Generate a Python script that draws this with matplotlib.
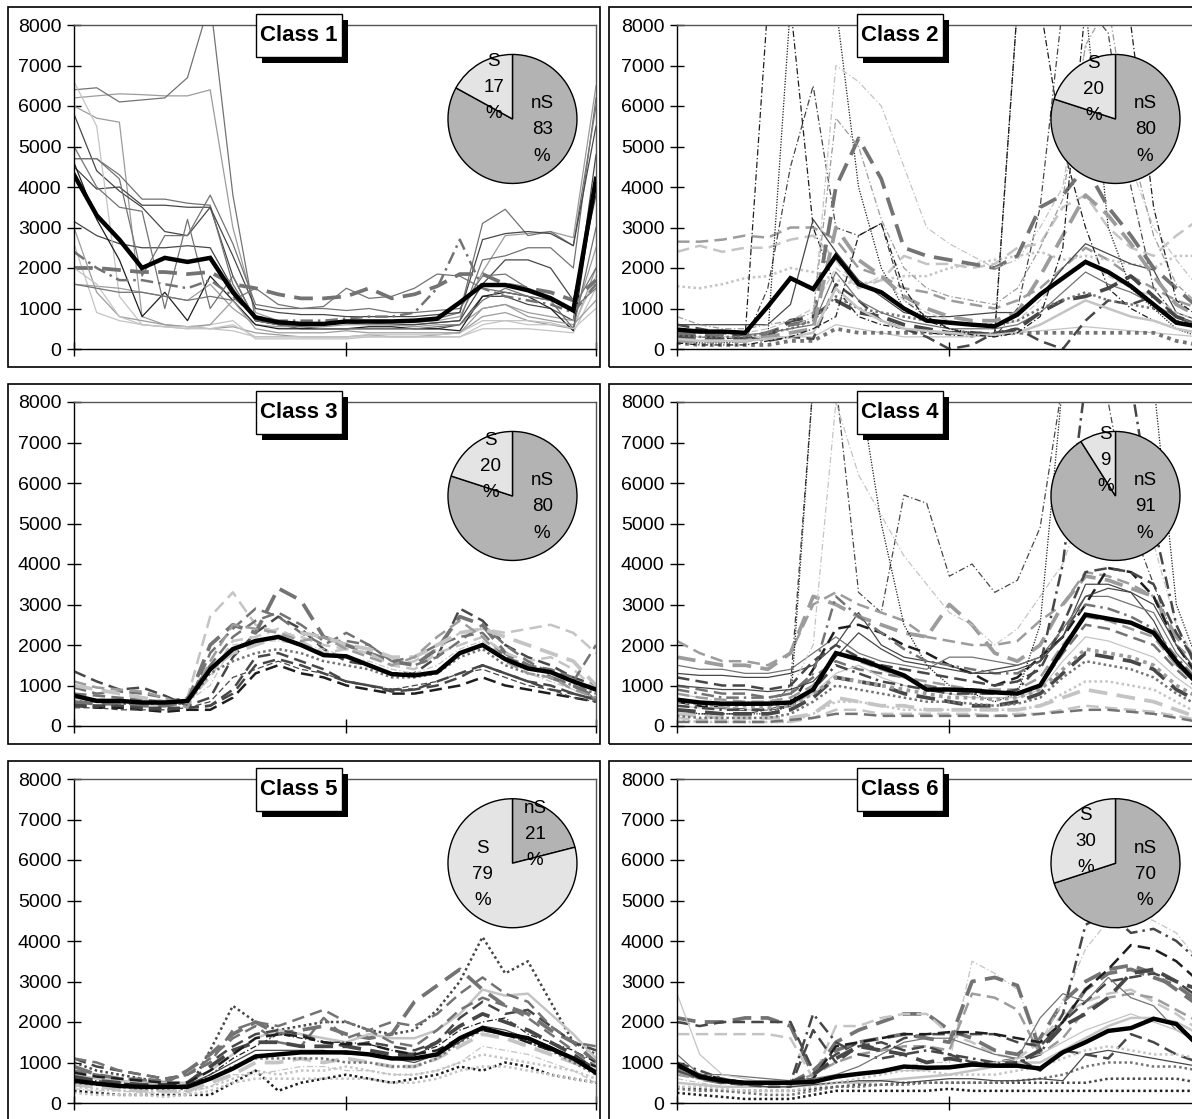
import numpy as np
import matplotlib.pyplot as plt
from matplotlib.patches import Rectangle

plt.rcParams['font.family'] = ['Liberation Sans', 'DejaVu Sans']

hours = np.arange(24)
y_ticks = [0, 1000, 2000, 3000, 4000, 5000, 6000, 7000, 8000]
class_names = ['Class 1', 'Class 2', 'Class 3', 'Class 4', 'Class 5', 'Class 6']
pct_ns = [83, 80, 80, 91, 21, 70]
pct_s = [17, 20, 20, 9, 79, 30]

# ---- Class 1
c1_mean = [4300, 3300, 2700, 2000, 2250, 2150, 2250, 1400, 780, 660, 620, 620, 680, 680, 680, 700, 750, 1150, 1580, 1580, 1450, 1250, 950, 4200]
c1_lines = [
    [6200, 6250, 6300, 6280, 6250, 6250, 6400, 3000, 900, 700, 650, 600, 650, 700, 650, 650, 700, 800, 1900, 2800, 2850, 2900, 2750, 6500],
    [6400, 6450, 6100, 6150, 6200, 6700, 8600, 3800, 700, 650, 600, 600, 700, 650, 650, 700, 750, 900, 3100, 3450, 2800, 2900, 2550, 6000],
    [6000, 5700, 5600, 800, 600, 550, 500, 550, 400, 350, 300, 300, 300, 350, 300, 300, 350, 400, 800, 900, 700, 600, 500, 2000],
    [5800, 4400, 3900, 3500, 2900, 2800, 3500, 1800, 700, 600, 500, 500, 500, 500, 500, 500, 500, 600, 1300, 1300, 1100, 1000, 700, 4800],
    [4700, 4700, 4300, 3700, 3700, 3600, 3550, 1600, 700, 650, 600, 600, 650, 650, 600, 600, 650, 700, 2200, 2300, 2500, 2500, 2000, 6200],
    [4500, 3950, 4000, 3550, 3550, 3500, 3500, 2300, 1000, 900, 850, 850, 800, 800, 800, 800, 850, 900, 2700, 2850, 2900, 2850, 2550, 5500],
    [3150, 2800, 2600, 2500, 2500, 2550, 2500, 1500, 700, 600, 600, 600, 650, 600, 600, 600, 650, 700, 1600, 2200, 2200, 2000, 1200, 3800],
    [6600, 5500, 1300, 600, 550, 500, 500, 450, 300, 300, 300, 300, 300, 350, 350, 350, 350, 400, 700, 700, 600, 600, 550, 1800],
    [2600, 900, 700, 600, 550, 500, 600, 700, 250, 250, 250, 250, 250, 300, 300, 300, 300, 300, 500, 500, 500, 450, 400, 1500],
    [1600, 1550, 1500, 1400, 1300, 1200, 1600, 1000, 600, 550, 550, 550, 600, 600, 600, 550, 600, 600, 1000, 1100, 900, 800, 700, 2500],
    [2000, 2000, 1950, 1900, 1900, 1850, 1900, 1600, 1500, 1350, 1250, 1250, 1300, 1500, 1250, 1350, 1550, 1850, 1850, 1600, 1500, 1400, 1200, 1700],
    [4600, 3200, 2200, 800, 1400, 700, 1800, 1200, 600, 500, 500, 500, 500, 550, 550, 500, 500, 450, 1300, 1400, 1300, 1000, 450, 4200],
    [2400, 2000, 1700, 1700, 1600, 1500, 1700, 1300, 800, 700, 700, 700, 750, 800, 800, 900, 1500, 2700, 1500, 1300, 1200, 1100, 900, 1600],
    [3000, 1400, 800, 700, 600, 550, 600, 1200, 500, 400, 400, 400, 450, 400, 400, 400, 400, 400, 1000, 1100, 800, 700, 600, 1200],
    [5000, 4000, 3500, 3400, 1000, 3200, 1000, 1800, 700, 600, 550, 500, 500, 500, 500, 500, 550, 600, 1200, 1500, 1300, 1200, 500, 3000],
    [4700, 4700, 4200, 1800, 2800, 2800, 3800, 2600, 1100, 1000, 1000, 1000, 950, 1000, 900, 900, 950, 1000, 1800, 1850, 1500, 1300, 1000, 2000],
    [2000, 1600, 800, 600, 550, 550, 500, 600, 300, 300, 300, 300, 300, 300, 300, 300, 300, 300, 600, 700, 700, 650, 500, 1000],
    [1600, 1500, 1400, 1400, 1300, 1200, 1300, 1200, 1500, 1100, 1000, 1050, 1500, 1250, 1300, 1500, 1850, 1800, 1500, 1400, 1300, 1200, 1000, 1500],
]
c1_styles = ['Ls1', 'Ms1', 'Ls1', 'Ds1', 'Ms1', 'Ds1', 'Ds1', 'Xs1', 'Xs1', 'Ls1', 'Md3', 'Ks1', 'Ma2', 'Ls1', 'Ms1', 'Ms1', 'Xs1', 'Ms1']

# ---- Class 2
c2_mean = [480, 430, 430, 400, 1050, 1750, 1480, 2300, 1600, 1400, 1000, 700, 650, 600, 560, 850, 1350, 1750, 2150, 1900, 1550, 1100, 650, 550]
c2_lines = [
    [2650, 2650, 2700, 2800, 2750, 3000, 3000, 2700, 2000, 1800, 1500, 1400, 1200, 1100, 1000, 1200, 1500, 2000, 2500, 2200, 1800, 1500, 1200, 1000],
    [2400, 2550, 2400, 2500, 2500, 2700, 2800, 2200, 1500, 1700, 2300, 2100, 2100, 2000, 2100, 2500, 2600, 3500, 3800, 3000, 2500, 2300, 2800, 3200],
    [1550, 1500, 1600, 1750, 1800, 2000, 1900, 1700, 1600, 1700, 1800, 1800, 2000, 2100, 2200, 2300, 2400, 2200, 2300, 2200, 2100, 2000, 2300, 2300],
    [300, 300, 250, 300, 8500, 8500, 3000, 1500, 800, 600, 500, 400, 350, 300, 400, 8500, 8500, 5000, 3000, 1500, 1000, 700, 500, 400],
    [200, 200, 200, 200, 1500, 4500, 6500, 3000, 2800, 3100, 1200, 800, 500, 400, 300, 1000, 3500, 8500, 8500, 7800, 4000, 1500, 800, 500],
    [200, 150, 150, 200, 300, 8500, 8500, 8500, 4000, 2000, 1000, 800, 500, 400, 300, 8500, 8500, 8500, 8500, 3000, 1500, 1000, 500, 300],
    [600, 600, 600, 600, 600, 1100, 3200, 2400, 1700, 1300, 900, 800, 800, 850, 900, 900, 1300, 2000, 2600, 2350, 2100, 1950, 900, 700],
    [300, 300, 300, 300, 300, 300, 300, 600, 500, 400, 300, 300, 300, 300, 350, 400, 450, 500, 550, 500, 450, 400, 350, 300],
    [400, 350, 350, 300, 400, 600, 700, 4000, 5200, 4200, 2500, 2300, 2200, 2100, 2000, 2300, 3500, 3800, 4500, 3500, 2800, 2000, 1500, 1000],
    [500, 450, 400, 400, 500, 700, 1000, 2000, 1500, 1800, 1200, 900, 700, 600, 550, 700, 1200, 1800, 2200, 1800, 1500, 1300, 900, 700],
    [150, 100, 100, 100, 100, 200, 200, 500, 400, 400, 400, 400, 400, 400, 350, 400, 400, 400, 400, 400, 400, 400, 200, 100],
    [600, 500, 400, 300, 200, 300, 250, 1600, 1200, 700, 500, 300, 0, 100, 400, 500, 200, 0, 700, 1200, 1100, 1300, 800, 600],
    [200, 200, 300, 300, 400, 500, 800, 7000, 6600, 6000, 4500, 3000, 2600, 2300, 2000, 2200, 3000, 4000, 7500, 6500, 4500, 3000, 2200, 1500],
    [400, 400, 400, 350, 400, 500, 600, 1900, 1200, 900, 700, 600, 500, 500, 500, 600, 900, 1400, 1900, 1600, 1400, 1100, 800, 600],
    [300, 300, 250, 250, 300, 700, 800, 1200, 900, 800, 600, 500, 400, 400, 350, 500, 900, 1200, 1300, 1500, 1800, 1300, 800, 600],
    [800, 600, 500, 500, 600, 700, 900, 5700, 5000, 3200, 2000, 1500, 1300, 1200, 1100, 1500, 2500, 3700, 7500, 8500, 5000, 2800, 1600, 1100],
    [350, 300, 300, 300, 400, 500, 700, 1300, 1000, 900, 800, 700, 650, 600, 600, 700, 1000, 1200, 1400, 1200, 1100, 1000, 700, 500],
    [200, 200, 200, 200, 300, 400, 500, 3000, 2200, 1800, 1300, 1000, 800, 700, 700, 900, 1800, 2800, 3800, 3300, 2600, 1800, 1100, 800],
    [250, 200, 200, 200, 250, 300, 400, 1500, 1000, 700, 500, 450, 400, 350, 350, 400, 600, 900, 1200, 1000, 800, 700, 500, 400],
    [150, 100, 100, 100, 200, 300, 500, 800, 2800, 3100, 1500, 700, 500, 350, 300, 400, 800, 2500, 8500, 8500, 8000, 3500, 1200, 800],
]
c2_styles = ['Ld2', 'Xd2', 'Xo2', 'Ka1', 'Da1', 'Ko1', 'Ds1', 'Xs1', 'Md3', 'Xd1', 'Mo3', 'Dd2', 'Xa1', 'Ms1', 'Dd3', 'La1', 'Mo2', 'Ld3', 'Xs2', 'Ka1']

# ---- Class 3
c3_mean = [750, 620, 620, 580, 580, 620, 1400, 1900, 2100, 2200, 2000, 1750, 1720, 1500, 1280, 1250, 1330, 1800, 2000, 1650, 1420, 1330, 1100, 900]
c3_lines = [
    [1350, 1100, 900, 950, 750, 500, 700, 1700, 2300, 2700, 2400, 1900, 1600, 1500, 1300, 1300, 1700, 2900, 2600, 2000, 1700, 1500, 1200, 1000],
    [500, 450, 450, 400, 350, 400, 400, 700, 1300, 1500, 1300, 1200, 1000, 900, 800, 800, 900, 1000, 1200, 1000, 900, 800, 700, 600],
    [550, 500, 500, 450, 400, 450, 500, 800, 1500, 1650, 1500, 1300, 1100, 1000, 900, 900, 1000, 1200, 1500, 1300, 1100, 900, 800, 650],
    [600, 600, 550, 550, 500, 700, 2700, 3300, 2500, 2300, 2200, 2000, 1900, 1800, 1500, 1600, 1900, 2300, 2400, 2300, 2400, 2500, 2300, 1800],
    [600, 550, 550, 500, 500, 600, 2000, 2500, 2300, 3400, 3100, 2200, 2000, 1800, 1600, 1500, 1900, 2700, 2500, 1800, 1500, 1200, 1000, 700],
    [950, 800, 850, 800, 700, 500, 1800, 2400, 2900, 2700, 2300, 2000, 2300, 2000, 1600, 1700, 2000, 2200, 2300, 1700, 1500, 1400, 1200, 600],
    [700, 650, 650, 600, 600, 600, 1200, 2100, 2200, 2400, 2100, 1800, 1900, 1800, 1500, 1400, 1800, 2000, 2200, 1800, 1600, 1700, 1400, 900],
    [500, 500, 500, 450, 450, 450, 500, 900, 1700, 1800, 1600, 1400, 1100, 1000, 850, 900, 1100, 1300, 1500, 1300, 1100, 1000, 800, 650],
    [650, 600, 600, 550, 550, 600, 1000, 2000, 2100, 2100, 2000, 1900, 1700, 1600, 1400, 1300, 1500, 1900, 2100, 1700, 1300, 1100, 900, 700],
    [800, 750, 700, 650, 600, 700, 1500, 2200, 2600, 2800, 2500, 2100, 2100, 2000, 1600, 1500, 1700, 2100, 2500, 2000, 1600, 1300, 1100, 2000],
    [600, 600, 550, 550, 550, 550, 1300, 1600, 1800, 1900, 1800, 1600, 1500, 1400, 1200, 1200, 1300, 1700, 1900, 1500, 1300, 1200, 1000, 800],
    [450, 450, 400, 400, 400, 450, 600, 1200, 1400, 1600, 1400, 1300, 1100, 1000, 900, 1000, 1100, 1300, 1400, 1200, 1000, 900, 700, 600],
    [1000, 900, 800, 700, 600, 600, 1400, 1800, 2000, 2200, 2300, 2200, 2000, 1900, 1700, 1700, 2000, 2300, 2400, 2200, 2000, 1800, 1600, 1000],
    [1100, 950, 900, 850, 700, 450, 1600, 2500, 2400, 2300, 2100, 2200, 1900, 1700, 1500, 1700, 2200, 2600, 2200, 1600, 1300, 1200, 900, 700],
]
c3_styles = ['Dd2', 'Kd2', 'Dd2', 'Xd2', 'Md3', 'Md2', 'Xd2', 'Dd2', 'Xa1', 'Md2', 'Mo2', 'Dd1', 'Xd3', 'Ld2']

# ---- Class 4
c4_mean = [650, 580, 550, 550, 550, 580, 900, 1800, 1650, 1450, 1250, 900, 900, 880, 830, 800, 1000, 1900, 2750, 2650, 2550, 2300, 1600, 1000]
c4_lines = [
    [300, 300, 300, 300, 400, 1000, 8500, 8500, 3300, 2800, 5700, 5500, 3700, 4000, 3300, 3600, 4900, 8500, 8500, 8000, 5000, 3500, 2000, 1200],
    [2100, 1800, 1600, 1600, 1500, 1800, 3000, 3300, 3000, 2800, 2600, 2200, 2100, 2000, 2000, 2100, 2600, 3000, 3800, 3700, 3500, 3200, 2000, 1500],
    [1300, 1250, 1250, 1200, 1200, 1300, 1500, 2000, 2800, 2000, 1700, 1600, 1500, 1300, 1400, 1500, 1700, 2200, 3500, 3500, 3300, 2600, 1500, 1000],
    [1500, 1400, 1400, 1300, 1300, 1400, 1800, 2200, 1800, 1600, 1500, 1400, 1700, 1700, 1600, 1500, 1700, 2400, 3200, 3200, 3000, 2800, 1800, 1200],
    [1700, 1600, 1500, 1500, 1400, 1800, 3200, 3000, 2700, 2500, 2300, 2200, 3000, 2500, 1800, 1600, 2000, 3000, 3700, 3600, 3400, 3200, 2200, 1600],
    [800, 700, 600, 600, 600, 900, 2000, 8000, 6200, 5200, 4200, 3500, 2800, 2500, 2000, 2400, 3200, 4000, 5600, 6500, 6000, 4500, 2500, 1500],
    [600, 500, 450, 400, 400, 500, 1400, 2400, 2500, 2300, 2000, 1800, 1500, 1300, 1000, 1200, 1700, 2200, 3000, 3900, 3800, 3200, 2000, 1200],
    [400, 300, 300, 300, 300, 500, 8500, 8500, 8500, 5000, 2500, 1500, 1000, 800, 600, 800, 2500, 8500, 8500, 8500, 8500, 8500, 3000, 1500],
    [1000, 900, 800, 800, 700, 800, 1200, 1600, 1400, 1300, 1200, 1000, 900, 800, 800, 800, 1000, 1800, 2500, 2400, 2200, 2000, 1400, 900],
    [200, 150, 150, 100, 100, 100, 200, 400, 400, 300, 300, 300, 300, 300, 250, 300, 300, 400, 500, 450, 400, 350, 250, 150],
    [300, 250, 200, 200, 200, 200, 300, 700, 600, 500, 500, 400, 400, 400, 400, 400, 500, 700, 900, 800, 700, 600, 400, 200],
    [150, 100, 100, 100, 100, 100, 300, 600, 600, 500, 400, 400, 400, 400, 400, 400, 500, 800, 1100, 1100, 1000, 900, 600, 300],
    [500, 450, 450, 400, 400, 500, 800, 1300, 1500, 1200, 1000, 900, 800, 700, 700, 700, 900, 1600, 2200, 2100, 1900, 1700, 1200, 800],
    [400, 350, 300, 300, 300, 400, 700, 1200, 1100, 1000, 800, 700, 600, 500, 500, 600, 800, 1300, 1800, 1700, 1600, 1400, 900, 600],
    [900, 800, 700, 700, 700, 800, 1300, 3200, 2700, 2300, 1900, 1600, 1500, 1400, 1300, 1300, 1600, 2400, 3000, 2900, 2700, 2400, 1700, 1100],
    [1200, 1100, 1000, 1000, 900, 1000, 1600, 2000, 1700, 1500, 1400, 1300, 1200, 1100, 1000, 1100, 1400, 2500, 3800, 3900, 3800, 3500, 2300, 1500],
    [250, 200, 200, 200, 200, 300, 600, 1000, 900, 800, 700, 600, 600, 550, 500, 550, 700, 1200, 1600, 1500, 1400, 1200, 800, 500],
    [800, 700, 650, 600, 600, 700, 1000, 1800, 1600, 1400, 1200, 1100, 1000, 900, 900, 900, 1200, 2000, 2700, 2600, 2400, 2200, 1500, 1000],
    [500, 450, 400, 400, 400, 500, 900, 1500, 1300, 1100, 1000, 900, 800, 800, 800, 900, 1500, 4000, 8500, 8500, 8500, 5000, 2500, 1300],
    [1000, 950, 900, 900, 850, 900, 1100, 1700, 2300, 1900, 1600, 1500, 1400, 1300, 1300, 1400, 1600, 2200, 3200, 3400, 3300, 3000, 2000, 1300],
    [100, 100, 100, 100, 100, 150, 200, 300, 300, 250, 250, 250, 250, 250, 250, 250, 300, 350, 400, 400, 350, 300, 200, 100],
    [600, 550, 500, 500, 450, 500, 800, 1200, 1100, 1000, 900, 800, 700, 700, 650, 700, 900, 1400, 1900, 1800, 1700, 1500, 1000, 700],
]
c4_styles = ['Da1', 'Ld2', 'Ds1', 'Ms1', 'Ld3', 'Xa1', 'Kd2', 'Ko1', 'Md2', 'Xd2', 'Xd3', 'Xo2', 'Xs1', 'Dd3', 'Ma2', 'Dd2', 'Mo2', 'Ld2', 'Da2', 'Ds1', 'Md2', 'Lo3']

# ---- Class 5
c5_mean = [550, 480, 420, 400, 400, 400, 600, 850, 1150, 1200, 1250, 1250, 1250, 1200, 1100, 1100, 1200, 1600, 1850, 1700, 1600, 1350, 1100, 750]
c5_lines = [
    [1000, 800, 700, 600, 500, 300, 1300, 2400, 2000, 1800, 1900, 2000, 2000, 1800, 1700, 1800, 2300, 3000, 4100, 3200, 3500, 2500, 1500, 1200],
    [900, 700, 600, 550, 500, 800, 1200, 1700, 2000, 1700, 1800, 1900, 1700, 1600, 1700, 2500, 2900, 3300, 2800, 2400, 2200, 1800, 1500, 1000],
    [700, 600, 550, 500, 500, 500, 800, 1200, 1600, 1800, 1700, 1600, 1500, 1700, 1600, 1600, 1800, 2200, 2800, 2650, 2700, 2200, 1700, 1100],
    [1100, 900, 800, 700, 600, 700, 1000, 1400, 1700, 1800, 1700, 1500, 1400, 1500, 1400, 1300, 1500, 2100, 2500, 2200, 2300, 1900, 1500, 1300],
    [600, 550, 500, 450, 400, 400, 700, 1100, 1400, 1700, 1600, 1500, 1500, 1450, 1300, 1200, 1400, 1800, 2000, 2100, 1700, 1500, 1300, 1000],
    [400, 350, 300, 300, 300, 300, 400, 600, 800, 700, 800, 800, 900, 800, 700, 700, 800, 1000, 1200, 1100, 1000, 900, 800, 600],
    [450, 400, 350, 300, 300, 300, 500, 700, 1000, 1000, 1100, 1000, 1100, 1000, 900, 900, 1100, 1400, 1700, 1600, 1400, 1200, 1000, 800],
    [300, 250, 200, 200, 200, 200, 200, 500, 800, 300, 500, 600, 700, 600, 500, 600, 700, 900, 800, 1000, 900, 700, 600, 500],
    [800, 700, 600, 600, 550, 700, 1100, 1600, 1900, 1500, 1400, 2100, 1600, 1800, 1500, 1400, 1800, 2300, 2600, 2400, 2100, 1700, 1300, 900],
    [650, 550, 500, 450, 450, 500, 900, 1300, 1500, 1500, 1400, 1400, 1400, 1300, 1200, 1200, 1500, 1900, 2200, 2000, 1800, 1500, 1200, 800],
    [500, 450, 400, 350, 350, 400, 600, 900, 1100, 1100, 1100, 1100, 1000, 1000, 900, 900, 1100, 1500, 1800, 1700, 1500, 1300, 1000, 700],
    [350, 300, 300, 250, 250, 250, 400, 700, 700, 800, 900, 900, 800, 800, 700, 700, 800, 1000, 1400, 1300, 1200, 1000, 800, 500],
    [750, 650, 600, 550, 500, 500, 800, 1200, 1600, 1700, 1650, 1500, 1450, 1450, 1300, 1200, 1300, 1600, 1800, 1700, 1500, 1300, 1100, 900],
    [250, 200, 200, 200, 150, 200, 300, 500, 600, 600, 600, 600, 600, 600, 500, 500, 600, 800, 900, 900, 800, 700, 600, 500],
    [1100, 1000, 800, 700, 600, 700, 1000, 1800, 2000, 1900, 2100, 2300, 2000, 1800, 2000, 1900, 2200, 2700, 3100, 2700, 2500, 1900, 1500, 1400],
    [600, 500, 450, 400, 400, 450, 700, 1000, 1300, 1300, 1300, 1300, 1200, 1200, 1100, 1000, 1200, 1500, 1900, 1800, 1600, 1400, 1100, 700],
]
c5_styles = ['Do2', 'Md3', 'Xs2', 'Dd2', 'Ka1', 'Xo2', 'Xd3', 'Ko2', 'Md2', 'Dd3', 'Mo2', 'Xa1', 'Kd2', 'Xo2', 'Md2', 'Ds1']

# ---- Class 6
c6_mean = [950, 650, 550, 500, 500, 500, 520, 650, 720, 780, 900, 870, 880, 950, 920, 920, 850, 1250, 1500, 1780, 1850, 2080, 1950, 1400]
c6_lines = [
    [2100, 2000, 2000, 2100, 2100, 1900, 700, 1500, 1800, 2000, 2200, 2200, 1800, 1600, 1300, 1200, 1600, 2500, 3000, 3300, 3400, 3200, 2800, 2400],
    [1700, 1700, 1700, 1700, 1700, 1600, 600, 1900, 1900, 2100, 2200, 2200, 1700, 1500, 1200, 1100, 1500, 2200, 2500, 2700, 2800, 2500, 2200, 1800],
    [2000, 1900, 2000, 2000, 2000, 2000, 800, 1200, 1500, 1300, 1600, 1700, 1700, 1700, 1700, 1500, 1400, 2000, 2500, 3000, 3100, 3200, 3000, 2600],
    [600, 500, 400, 400, 400, 400, 500, 600, 700, 800, 900, 1000, 1000, 3500, 3200, 2800, 1500, 2500, 3800, 4500, 4700, 4500, 4200, 3500],
    [800, 600, 500, 500, 500, 500, 800, 1300, 1500, 1600, 1700, 1600, 1500, 3000, 3100, 2900, 1300, 2000, 2800, 3200, 3300, 3100, 2900, 2500],
    [700, 600, 500, 450, 450, 500, 700, 1000, 1200, 1300, 1400, 1400, 1300, 2700, 2600, 2300, 1200, 1600, 2300, 2600, 2700, 2600, 2300, 2000],
    [900, 700, 600, 500, 500, 500, 600, 1400, 1500, 1600, 1700, 1700, 1750, 1750, 1700, 1600, 1500, 2000, 2800, 3300, 3900, 3800, 3500, 3000],
    [1000, 800, 600, 500, 500, 500, 2200, 1500, 1200, 1100, 1200, 1300, 1200, 1100, 1000, 1000, 1200, 2200, 4400, 4700, 4200, 4300, 4000, 3500],
    [1200, 700, 700, 650, 600, 550, 600, 700, 900, 1200, 1500, 1600, 1600, 1400, 1200, 1100, 2100, 2700, 2500, 3100, 2600, 2400, 1800, 1500],
    [500, 450, 400, 400, 400, 400, 450, 500, 500, 550, 600, 650, 700, 800, 900, 1000, 1000, 1300, 1600, 1900, 2100, 2100, 2000, 1700],
    [250, 200, 150, 100, 100, 100, 200, 300, 300, 300, 300, 300, 350, 300, 300, 300, 300, 300, 300, 300, 300, 300, 300, 300],
    [400, 350, 300, 300, 300, 300, 350, 400, 450, 450, 500, 500, 500, 500, 500, 500, 500, 500, 500, 600, 600, 600, 600, 500],
    [350, 300, 300, 250, 200, 200, 300, 400, 400, 450, 450, 500, 500, 500, 500, 550, 600, 700, 900, 1000, 1000, 900, 900, 800],
    [800, 600, 500, 450, 400, 400, 450, 500, 550, 550, 500, 550, 600, 600, 550, 550, 600, 550, 1200, 1300, 1200, 1100, 1000, 900],
    [900, 700, 500, 450, 400, 400, 1800, 1000, 1400, 1500, 1300, 1400, 1200, 1000, 1000, 1100, 800, 1300, 1200, 1100, 1700, 1500, 1200, 1000],
    [2700, 1200, 700, 600, 500, 450, 500, 600, 700, 800, 800, 800, 900, 900, 1000, 1100, 1200, 1500, 1800, 2000, 2200, 2000, 1800, 1500],
    [400, 400, 350, 300, 300, 300, 400, 500, 600, 700, 800, 800, 700, 700, 700, 800, 900, 1100, 1300, 1400, 1300, 1200, 1200, 1100],
    [900, 700, 500, 500, 500, 500, 700, 1100, 1400, 1300, 1200, 1000, 1100, 1000, 900, 1000, 1300, 1900, 2200, 2600, 3200, 3300, 3000, 2800],
]
c6_styles = ['Md3', 'Xd2', 'Dd2', 'Xa1', 'Md3', 'Ld2', 'Kd2', 'Da2', 'Ms1', 'Xs2', 'Ko2', 'Do2', 'Mo2', 'Ds1', 'Dd2', 'Xs1', 'Xo2', 'Dd3']

panels = [(c1_mean, c1_lines, c1_styles), (c2_mean, c2_lines, c2_styles),
          (c3_mean, c3_lines, c3_styles), (c4_mean, c4_lines, c4_styles),
          (c5_mean, c5_lines, c5_styles), (c6_mean, c6_lines, c6_styles)]

# style codes: grey shade, line pattern, width
shade = {'K': '#1e1e1e', 'D': '#474747', 'M': '#737373', 'L': '#9c9c9c', 'X': '#c4c4c4'}
pattern = {'s': '-', 'd': (0, (5, 2.5)), 'o': (0, (1, 1.2)), 'a': (0, (5, 2, 1, 2))}
lw_map = {'1': 0.9, '2': 1.8, '3': 2.7}

W, H = 1192, 1119
fig = plt.figure(figsize=(W / 100, H / 100), dpi=100)
fig.patch.set_facecolor('white')


def fig_rect(x, y, w, h):
    # pixel box (top-left origin) -> figure fraction
    return [x / W, 1 - (y + h) / H, w / W, h / H]


pie_cy = [0.71, 0.71, 0.74]
pie_r = 64.5

for i, (mean, lines, styles) in enumerate(panels):
    row, col = divmod(i, 2)
    frame_x = 8 if col == 0 else 609
    frame_y = 7 + 377 * row
    plot_x = 74 if col == 0 else 677
    plot_y = 25 + 377 * row

    # chart area frame
    fr = fig_rect(frame_x, frame_y, 592, 360)
    fig.add_artist(Rectangle((fr[0], fr[1]), fr[2], fr[3], transform=fig.transFigure,
                             fill=False, ec='black', lw=1.2, zorder=1))

    ax = fig.add_axes(fig_rect(plot_x, plot_y, 522, 324))
    for vals, code in zip(lines, styles):
        ax.plot(hours, vals, color=shade[code[0]], ls=pattern[code[1]], lw=lw_map[code[2]])
    ax.plot(hours, mean, color='black', lw=3.2, zorder=3, solid_joinstyle='miter')

    ax.set_xlim(0, 23)
    ax.set_ylim(0, 8000)
    ax.set_yticks(y_ticks)
    ax.set_xticks([0, 12, 23])
    ax.set_xticklabels([])
    ax.tick_params(direction='inout', length=10, width=1, labelsize=14, pad=4,
                   top=False, right=False)
    for side in ['left', 'bottom']:
        ax.spines[side].set_color('black')
        ax.spines[side].set_linewidth(1.0)
    for side in ['top', 'right']:
        ax.spines[side].set_color('#555555')
        ax.spines[side].set_linewidth(1.0)

    # pie inset
    pw = 2 * pie_r * 1.02 / 522
    ph = 2 * pie_r * 1.02 / 324
    pax = ax.inset_axes([0.84 - pw / 2, pie_cy[row] - ph / 2, pw, ph])
    shares = [pct_ns[i], pct_s[i]]
    wedges, _ = pax.pie(shares, colors=['#b3b3b3', '#e4e4e4'], startangle=90,
                        counterclock=False,
                        wedgeprops=dict(edgecolor='black', linewidth=1.0))
    pax.set_xlim(-1.02, 1.02)
    pax.set_ylim(-1.02, 1.02)
    for w, lab, share in zip(wedges, ['nS', 'S'], shares):
        mid = np.deg2rad((w.theta1 + w.theta2) / 2)
        if share > 50:
            tx, ty = 0.46 * np.sign(np.cos(mid)), -0.17
        else:
            tx, ty = 0.57 * np.cos(mid), 0.57 * np.sin(mid)
        pax.text(tx, ty, f'{lab}\n{share}\n%', ha='center', va='center',
                 fontsize=13.5, linespacing=1.7)

    # class label box with drop shadow
    bx, by, bw, bh = frame_x + 248, frame_y + 7, 86, 43
    sh = fig_rect(bx + 6, by + 6, bw, bh)
    fig.add_artist(Rectangle((sh[0], sh[1]), sh[2], sh[3], transform=fig.transFigure,
                             fc='black', ec='black', lw=0, zorder=10))
    bb = fig_rect(bx, by, bw, bh)
    fig.add_artist(Rectangle((bb[0], bb[1]), bb[2], bb[3], transform=fig.transFigure,
                             fc='white', ec='black', lw=1.0, zorder=11))
    fig.text(bb[0] + bb[2] / 2, bb[1] + bb[3] / 2, class_names[i], ha='center', va='center',
             fontsize=16, fontweight='bold', zorder=12)

fig.savefig('out.png', dpi=100)
